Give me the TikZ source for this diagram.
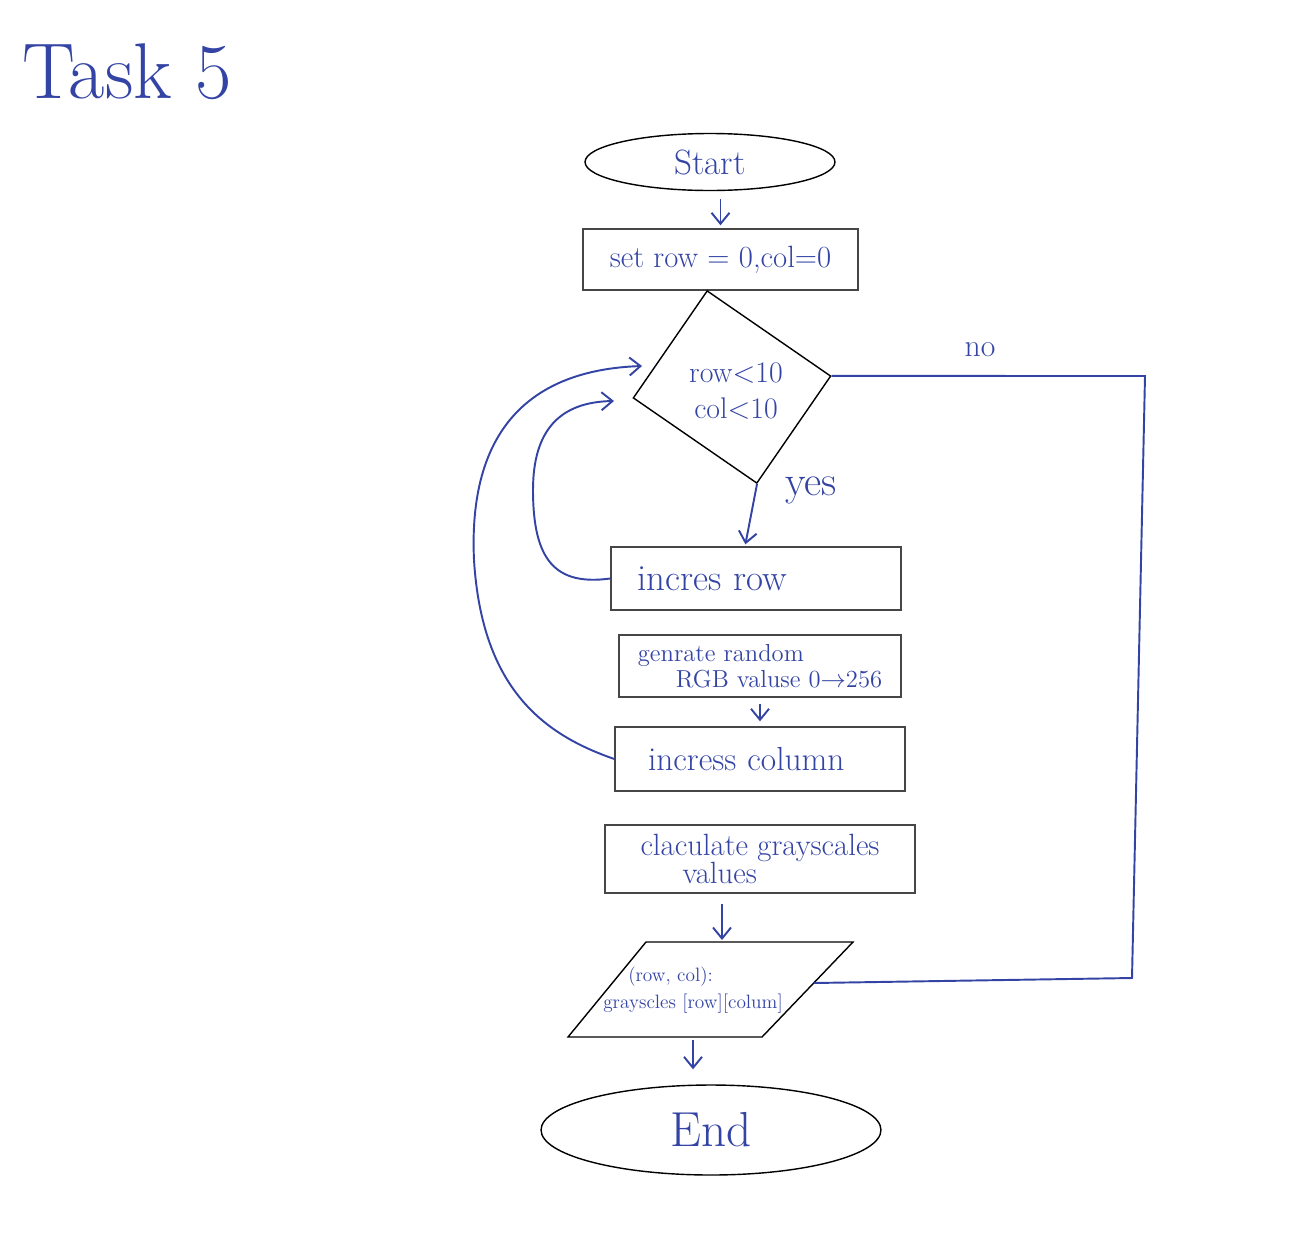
\documentclass[tikz,border=0pt]{standalone}
\usepackage{tikz}
\usetikzlibrary{shapes.geometric,arrows.meta}
\definecolor{ink}{RGB}{52,68,165}
\definecolor{boxgray}{RGB}{70,70,70}
\tikzset{
  hand/.style={text=ink, inner sep=0pt},
  term/.style={draw=black, ellipse, line width=0.8pt, text=ink, inner sep=0pt},
  box/.style={draw=boxgray, line width=0.8pt, rectangle, text=ink, align=left},
  decbox/.style={draw=black, rectangle, line width=0.8pt, inner sep=0pt},
  flow/.style={draw=ink, line width=1.1pt, -{Straight Barb[length=2.2mm,width=3.6mm]}},
  link/.style={draw=ink, line width=1.1pt},
}

\begin{document}
\begin{tikzpicture}[x=0.02cm, y=-0.02cm]
  \fill[white] (0,0) rectangle (1311,1241);
  \useasboundingbox (0,0) rectangle (1311,1241);

  \node[hand, font=\fontsize{45}{45}\selectfont] (title) at (127,72) {Task 5};

  \node[term, minimum width=5cm, minimum height=1.14cm, font=\fontsize{20}{20}\selectfont] (start) at (710,162) {Start};
  \node[box, minimum width=5.5cm, minimum height=1.22cm, font=\fontsize{17.5}{17.5}\selectfont] (setrow) at (720.5,259.5) {set row = 0,col=0};

  \node[decbox, rotate=-34.6, minimum width=3cm, minimum height=2.6cm] (dec) at (732,387) {};
  \node[hand, align=center, font=\fontsize{17}{21}\selectfont] (dectxt) at (736,391) {row<10\\col<10};
  \node[hand, font=\fontsize{18}{18}\selectfont] (nolbl) at (980,350) {no};
  \node[hand, font=\fontsize{24}{24}\selectfont] (yeslbl) at (811,490) {yes};

  \node[box, text width=4.76cm, inner xsep=0.52cm, minimum height=1.26cm, font=\fontsize{21}{21}\selectfont] (incrow) at (756,578.5) {incres row};
  \node[box, inner xsep=0.1cm, minimum width=5.64cm, minimum height=1.24cm, font=\fontsize{14}{15}\selectfont] (gen) at (760,666) {genrate random\\\hspace*{0.76cm}RGB valuse 0$\to$256};
  \node[box, text width=4.48cm, inner xsep=0.66cm, minimum height=1.28cm, font=\fontsize{19}{19}\selectfont] (inccol) at (760,759) {incress column};
  \node[box, inner xsep=0.1cm, minimum width=6.2cm, minimum height=1.36cm, font=\fontsize{17.5}{16}\selectfont] (calc) at (760,859) {claculate grayscales\\\hspace*{0.84cm}values};

  \coordinate (io1) at (646,942);
  \coordinate (io2) at (853,942);
  \coordinate (io3) at (762,1037);
  \coordinate (io4) at (568,1037);
  \draw[line width=0.8pt] (io1) -- (io2) -- (io3) -- (io4) -- cycle;
  \node[hand, align=left, font=\fontsize{11}{15}\selectfont] (iotxt) at (693,990) {\hspace*{0.5cm}(row, col):\\grayscles [row][colum]};
  \coordinate (iotop) at (722,942);
  \coordinate (iobot) at (693,1037);
  \coordinate (ioright) at (814,983);

  \node[term, minimum width=6.8cm, minimum height=1.8cm, font=\fontsize{28}{28}\selectfont] (stop) at (711,1130) {End};

  \coordinate (nocorner1) at (1145,376);
  \coordinate (nocorner2) at (1132,978);
  \coordinate (loopin1) at (614,401);
  \coordinate (loopin2) at (642,366);

  \draw[flow, shorten <=0.16cm, shorten >=0.06cm] (setrow.north |- start.south) -- (setrow.north);
  \draw[flow, shorten >=0.04cm] (dec.south east) -- ([xshift=-0.22cm]incrow.north);
  \draw[link] (dec.north east) -- (nocorner1) -- (nocorner2) -- (ioright);
  \draw[flow, shorten <=0.12cm, shorten >=0.1cm] (gen.south) -- (inccol.north);
  \draw[flow, shorten <=0.2cm, shorten >=0.04cm] (calc.south -| iotop) -- (iotop);
  \draw[flow, shorten <=0.06cm, shorten >=0.3cm] (iobot) -- (stop.north -| iobot);

  \draw[flow] (incrow.west) .. controls (555,586) and (533,560) .. (533,490)
    .. controls (533,430) and (560,402) .. (loopin1);
  \draw[flow] (inccol.west) .. controls (545,735) and (482,690) .. (474,560)
    .. controls (468,430) and (530,370) .. (loopin2);
\end{tikzpicture}
\end{document}
